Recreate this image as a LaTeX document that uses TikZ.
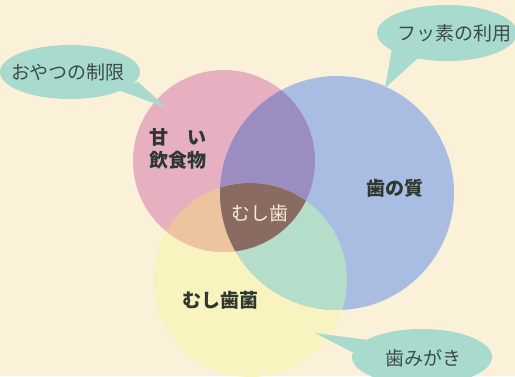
\documentclass[tikz,border=0pt]{standalone}
\usepackage{fontspec}
\newfontfamily\jp{Noto Sans CJK JP}
\definecolor{bg}{HTML}{FAF1D8}
\definecolor{pinkc}{HTML}{E6B0C0}
\definecolor{bluec}{HTML}{A9BDE3}
\definecolor{yelc}{HTML}{F8F3BF}
\definecolor{purc}{HTML}{9B8CC2}
\definecolor{orac}{HTML}{EEC4A0}
\definecolor{grnc}{HTML}{B4DEC9}
\definecolor{brnc}{HTML}{8A6B62}
\definecolor{bubc}{HTML}{A8DACD}
\definecolor{txtc}{HTML}{2F3830}
\definecolor{bubtxt}{HTML}{3C4C49}
\definecolor{wtxt}{HTML}{F4ECDD}
\tikzset{
  lbl/.style={font=\jp\bfseries\fontsize{19}{22}\selectfont, text=txtc, align=center, inner sep=0pt},
  bubtext/.style={font=\jp\fontsize{19}{22}\selectfont, text=bubtxt, inner sep=0pt},
  bub/.style={fill=bubc, draw=none}
}
\begin{document}
\begin{tikzpicture}[x=1pt,y=-1pt]
\fill[bg] (0,0) rectangle (515,376);
\useasboundingbox (0,0) rectangle (515,376);
% circles
\coordinate (P) at (224,161);
\coordinate (B) at (337,193);
\coordinate (Y) at (250,280);
\def\pinkpath{(P) circle[radius=91pt]}
\def\bluepath{(B) circle[radius=117pt]}
\def\yelpath{(Y) circle[radius=97pt]}
\fill[yelc] \yelpath;
\fill[pinkc] \pinkpath;
\fill[bluec] \bluepath;
\begin{scope}
  \clip \pinkpath;
  \fill[purc] \bluepath;
  \fill[orac] \yelpath;
  \clip \bluepath;
  \fill[brnc] \yelpath;
\end{scope}
\begin{scope}
  \clip \bluepath;
  \clip \yelpath;
  \fill[grnc] (0,0) rectangle (515,376);
  \fill[brnc] \pinkpath;
\end{scope}
% bubbles
\fill[bub] (70,72) ellipse[x radius=70pt, y radius=27pt];
\coordinate (t1) at (167,108);
\fill[bub] (118,90) -- (t1) -- (138,82) -- cycle;
\fill[bub] (447,33) ellipse[x radius=70pt, y radius=28pt];
\coordinate (t2) at (385,88);
\fill[bub] (392,48) -- (t2) -- (418,58) -- cycle;
\fill[bub] (422,357) ellipse[x radius=70pt, y radius=28pt];
\coordinate (t3) at (315,333);
\fill[bub] (352,352) -- (t3) -- (368,340) -- cycle;
\node[bubtext] (b1) at (68,72) {おやつの制限};
\node[bubtext] (b2) at (454,33) {フッ素の利用};
\node[bubtext] (b3) at (423,358) {歯みがき};
% labels
\node[lbl, align=left] (l1) at (178,149) {甘　い\\[1pt]飲食物};
\node[lbl, text=wtxt, font=\jp\fontsize{19}{22}\selectfont] (l2) at (260,213) {むし歯};
\node[lbl] (l3) at (395,188) {歯の質};
\node[lbl] (l4) at (220,300) {むし歯菌};
\end{tikzpicture}
\end{document}
